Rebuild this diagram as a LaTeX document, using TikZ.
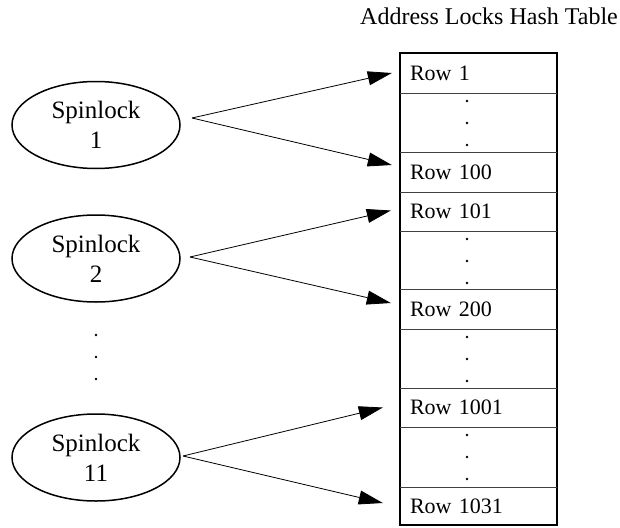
\documentclass[tikz,border=0pt]{standalone}
\usepackage{fontspec}
\setmainfont{Liberation Serif}
\usetikzlibrary{arrows.meta,positioning,calc,shapes.geometric}

\begin{document}
\begin{tikzpicture}[x=1pt,y=-1pt,
    lock/.style={draw, ellipse, line width=1.5pt, minimum width=168pt, minimum height=87pt,
        inner sep=0pt, align=center, font=\fontsize{25}{30}\selectfont},
    rowcell/.style={rectangle, minimum width=157pt, minimum height=40pt, inner xsep=10pt,
        inner ysep=0pt, text width=137pt, align=left, font=\fontsize{22}{26}\selectfont},
    link/.style={-{Triangle[length=24pt,width=14pt]}, line width=0.8pt}]
    \useasboundingbox (0,0) rectangle (620,527);

    % Title
    \node[anchor=base, font=\fontsize{24}{28}\selectfont] (title) at (489,25) {Address Locks Hash Table};

    % Hash table frame and rows
    \draw[line width=1.6pt] (400,53) rectangle (557,525);
    \foreach \y in {93,152,192,231,289,329,388,427,487}
        \draw[black!75, line width=0.8pt] (400,\y) -- (557,\y);

    \node[rowcell] (r1) at (478.5,73) {Row 1};
    \node[rowcell] (r100) at (478.5,172) {Row 100};
    \node[rowcell] (r101) at (478.5,211.5) {Row 101};
    \node[rowcell] (r200) at (478.5,309) {Row 200};
    \node[rowcell] (r1001) at (478.5,407.5) {Row 1001};
    \node[rowcell] (r1031) at (478.5,506) {Row 1031};

    % Skipped rows
    \foreach \t in {93,231,329,427}
        \foreach \d in {8,30,52}
            \fill (467,\t+\d) circle (1.3);

    % Spinlocks
    \node[lock] (s1) at (96,125) {Spinlock\\1};
    \node[lock] (s2) at (96,258.5) {Spinlock\\2};
    \node[lock] (s11) at (96,457.5) {Spinlock\\11};

    % Skipped spinlocks
    \foreach \y in {335,357,379}
        \fill (96,\y) circle (1.3);

    % Spinlock to row ranges
    \coordinate (s1out) at (192,118);
    \coordinate (s2out) at (190,257);
    \coordinate (s11out) at (183,456);
    \draw[link] (s1out) -- ($(r1.west)+(-8,0)$);
    \draw[link] (s1out) -- ($(r100.west)+(-8,-7)$);
    \draw[link] (s2out) -- ($(r101.west)+(-9,-1)$);
    \draw[link] (s2out) -- ($(r200.west)+(-9,-6)$);
    \draw[link] (s11out) -- ($(r1001.west)+(-17,0)$);
    \draw[link] (s11out) -- ($(r1031.west)+(-17,-3)$);
\end{tikzpicture}
\end{document}
